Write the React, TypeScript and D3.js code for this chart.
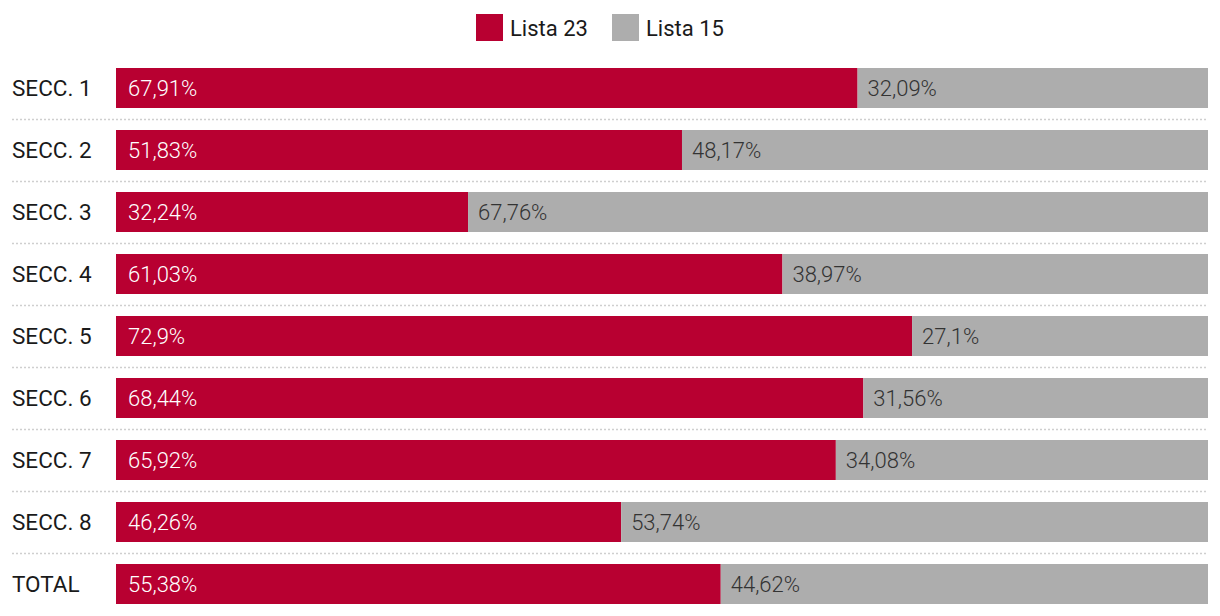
import React from "react";
import * as d3 from "d3";

const categories = ["SECC. 1", "SECC. 2", "SECC. 3", "SECC. 4", "SECC. 5", "SECC. 6", "SECC. 7", "SECC. 8", "TOTAL"];
const lista23 = [67.91, 51.83, 32.24, 61.03, 72.9, 68.44, 65.92, 46.26, 55.38];
const lista15 = [32.09, 48.17, 67.76, 38.97, 27.1, 31.56, 34.08, 53.74, 44.62];
const seriesNames = ["Lista 23", "Lista 15"];
const colors = ["#b80031", "#adadad"];

const W = 1220, H = 616;
const FONT = "Roboto, 'Noto Sans', sans-serif";

const fmt = (v: number) => String(v).replace(".", ",") + "%";

export default function App() {
  const x = d3.scaleLinear().domain([0, 100]).range([116, 1208]);
  const yb = d3.scaleBand().domain(categories).range([57, 57 + 62 * categories.length]).paddingInner(22 / 62).paddingOuter(11 / 62);
  const bw = yb.bandwidth();
  return (
    <svg width={W} height={H} style={{ position: "absolute", left: 0, top: 0, background: "#fff" }} fontFamily={FONT}>
      <g>
        <rect x={476} y={14} width={27} height={27} fill={colors[0]} />
        <text x={510} y={36} fontSize={22} fill="#1a1a1a">{seriesNames[0]}</text>
        <rect x={612} y={14} width={27} height={27} fill={colors[1]} />
        <text x={646} y={36} fontSize={22} fill="#1a1a1a">{seriesNames[1]}</text>
      </g>
      {categories.map((c, i) => {
        const top = yb(c)!;
        const mid = top + bw / 2;
        return (
          <g key={c}>
            {i < categories.length - 1 && (
              <line x1={12} x2={1208} y1={top + bw + 11.5} y2={top + bw + 11.5} stroke="#cfcfcf" strokeWidth={1.5} strokeDasharray="2,2" />
            )}
            <text x={12} y={mid} dy="0.36em" fontSize={22.5} fill="#1a1a1a">{c}</text>
            <rect x={x(0)} y={top} width={x(lista23[i]) - x(0)} height={bw} fill={colors[0]} />
            <rect x={x(lista23[i])} y={top} width={x(lista23[i] + lista15[i]) - x(lista23[i])} height={bw} fill={colors[1]} />
            <text x={x(0) + 12} y={mid} dy="0.36em" fontSize={22} fontWeight={300} fill="#fff">{fmt(lista23[i])}</text>
            <text x={x(lista23[i]) + 10} y={mid} dy="0.36em" fontSize={22} fontWeight={300} fill="#333">{fmt(lista15[i])}</text>
          </g>
        );
      })}
    </svg>
  );
}
